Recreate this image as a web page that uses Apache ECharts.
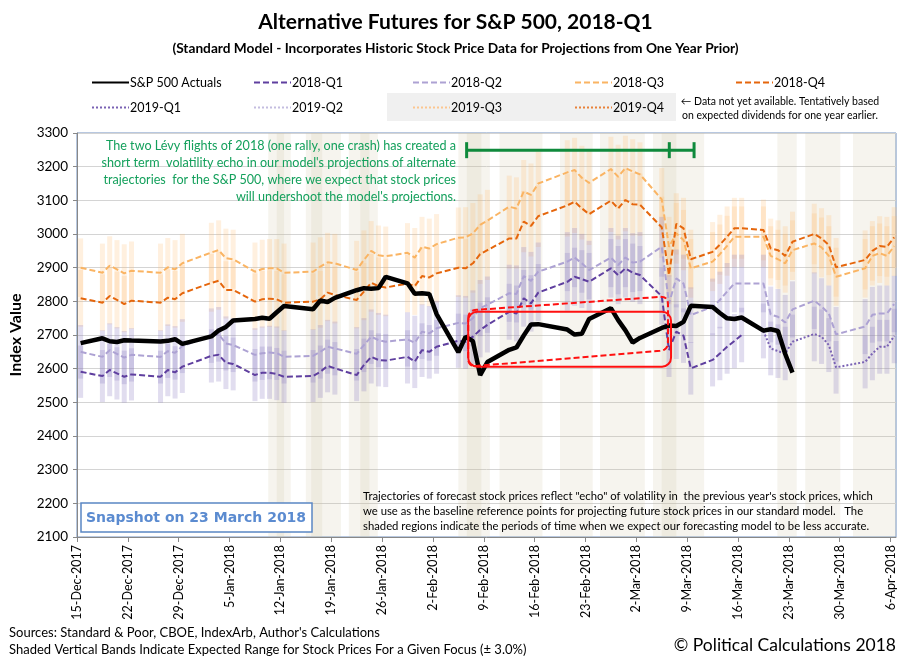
<!DOCTYPE html>
<html><head><meta charset="utf-8">
<script src="https://cdn.jsdelivr.net/npm/echarts@6/dist/echarts.min.js"></script>
<style>html,body{margin:0;padding:0;background:#fff}#c{width:911px;height:662px}</style>
</head><body><div id="c"></div>
<script>
const FONT = "Lato,'Noto Sans',sans-serif";
const dates = ['2017-12-15','2017-12-18','2017-12-19','2017-12-20','2017-12-21','2017-12-22','2017-12-26','2017-12-27','2017-12-28','2017-12-29',
'2018-01-02','2018-01-03','2018-01-04','2018-01-05','2018-01-08','2018-01-09','2018-01-10','2018-01-11','2018-01-12','2018-01-16','2018-01-17','2018-01-18','2018-01-19','2018-01-22','2018-01-23','2018-01-24','2018-01-25','2018-01-26','2018-01-29','2018-01-30','2018-01-31',
'2018-02-01','2018-02-02','2018-02-05','2018-02-06','2018-02-07','2018-02-08','2018-02-09','2018-02-12','2018-02-13','2018-02-14','2018-02-15','2018-02-16','2018-02-20','2018-02-21','2018-02-22','2018-02-23','2018-02-26','2018-02-27','2018-02-28',
'2018-03-01','2018-03-02','2018-03-05','2018-03-06','2018-03-07','2018-03-08','2018-03-09','2018-03-12','2018-03-13','2018-03-14','2018-03-15','2018-03-16','2018-03-19','2018-03-20','2018-03-21','2018-03-22','2018-03-23','2018-03-26','2018-03-27','2018-03-28','2018-03-29',
'2018-04-02','2018-04-03','2018-04-04','2018-04-05','2018-04-06'];

const actual = [2675.81,2690.16,2681.47,2679.25,2684.57,2683.34,2680.50,2682.62,2687.54,2673.61,
2695.81,2713.06,2723.99,2743.15,2747.71,2751.29,2748.23,2767.56,2786.24,2776.42,2802.56,2798.03,2810.30,2832.97,2839.13,2837.54,2839.25,2872.87,2853.53,2822.43,2823.81,
2821.98,2762.13,2648.94,2695.14,2681.66,2581.00,2619.55,2656.00,2662.94,2698.63,2731.20,2732.22,2716.26,2701.33,2703.96,2747.30,2779.60,2744.28,2713.83,
2677.67,2691.25,2720.94,2728.12,2726.80,2738.97,2786.57,2783.02,2765.31,2749.48,2747.33,2752.01,2712.92,2716.94,2711.93,2643.69,2588.26];

const q1_2018 = [2591,2578,2596,2586,2576,2583,2576,2596,2589,2606,
2638,2641,2618,2614,2581,2588,2588,2584,2576,2578,2591,2608,2601,2581,2611,2635,2626,2624,2635,2621,2655,
2650,2665,2683,2680,2695,2715,2730,2769,2764,2809,2794,2826,2858,2873,2866,2858,2898,2878,2898,
2885,2878,2815,2655,2710,2698,2601,2626,2645,2665,2682,2700];

const q2_2018 = [2650,2635,2655,2644,2633,2641,2635,2652,2647,2667,
2698,2702,2675,2670,2641,2646,2648,2646,2635,2638,2650,2665,2660,2644,2670,2695,2685,2680,2687,2677,2710,
2705,2720,2736,2734,2750,2780,2790,2824,2822,2875,2861,2888,2918,2930,2913,2893,2930,2908,2930,
2915,2918,2962,2794,2868,2853,2759,2784,2804,2829,2853,2853,2853,2761,2754,2737,2776,2802,2785,2764,2702,
2725,2760,2764,2764,2792];

const q3_2018 = [2900,2885,2906,2895,2883,2891,2885,2901,2895,2913,
2945,2952,2928,2925,2888,2896,2898,2898,2885,2888,2903,2916,2913,2893,2923,2950,2937,2934,2944,2930,2962,
2957,2970,2989,2990,3002,3027,3040,3081,3076,3126,3116,3150,3183,3190,3167,3152,3193,3170,3196,
3186,3177,3103,2962,3002,2982,2898,2918,2940,2965,2992,2992,2992,2935,2925,2913,2952,2972,2960,2935,2873,
2898,2935,2943,2935,2964];

const q4_2018 = [2809,2796,2816,2804,2792,2802,2796,2811,2806,2824,
2855,2861,2834,2834,2799,2806,2808,2806,2796,2799,2806,2826,2819,2804,2829,2855,2845,2841,2853,2845,2875,
2871,2883,2900,2898,2913,2940,2952,2987,2987,3037,3024,3053,3085,3096,3076,3059,3099,3076,3101,
3088,3087,3020,2878,3030,3017,2925,2947,2968,2992,3017,3017,3012,2957,2952,2935,2977,3000,2987,2967,2901,
2923,2950,2964,2962,2990];

// 2019-Q1 starts at 19-Mar-2018 (index 62)
const q1_2019_start = 62;
const q1_2019 = [2712,2660,2652,2645,2680,2703,2695,2670,2604,2620,2645,2665,2665,2697];
const q2_2019 = [], q3_2019 = [], q4_2019 = [];

const rangePct = 0.03; // stated expected range (+/- 3.0%)

// shaded "less accurate" periods [start, end] (dates)
const shadeBands = [
 ['2018-01-10T08:00','2018-01-13T10:00'],['2018-01-11T12:00','2018-01-12T12:00'],
 ['2018-01-15T12:00','2018-01-20T08:00'],['2018-01-16T06:00','2018-01-17T18:00'],
 ['2018-01-21T10:00','2018-01-25T10:00'],['2018-01-23T00:00','2018-01-24T06:00'],
 ['2018-02-05T12:00','2018-02-09T20:00'],['2018-02-06T16:00','2018-02-08T16:00'],
 ['2018-02-11T04:00','2018-02-17T02:00'],
 ['2018-02-19T12:00','2018-02-24T00:00'],
 ['2018-02-25T00:00','2018-03-03T04:00'],
 ['2018-03-04T07:00','2018-03-11T08:00'],['2018-03-05T12:00','2018-03-07T12:00'],
 ['2018-03-21T10:00','2018-03-24T02:00'],
 ['2018-03-25T06:00','2018-03-30T02:00'],
 ['2018-03-31T20:00','2018-04-07T18:00']
];

const yMin = 2100, yMax = 3300, yStep = 100;
const xMaxDays = 112.75;

const base = Date.UTC(2017,11,15);
function dayNum(s){
  const p = s.split(/[-T:]/).map(Number);
  return (Date.UTC(p[0],p[1]-1,p[2],p[3]||0,p[4]||0) - base)/86400000;
}
const MON = ['Jan','Feb','Mar','Apr','May','Jun','Jul','Aug','Sep','Oct','Nov','Dec'];
function fmtDay(v){
  const d = new Date(base + v*86400000);
  return d.getUTCDate()+'-'+MON[d.getUTCMonth()]+'-'+d.getUTCFullYear();
}
const xs = dates.map(d => dayNum(d) + 0.5);

function pairs(vals, start){ start = start||0; return vals.map((v,i)=> v==null?null:[xs[start+i], v]).filter(Boolean); }
function ranges(vals, start){ start = start||0; return vals.map((v,i)=>[xs[start+i], v*(1-rangePct), v*(1+rangePct)]); }

const C = {q1:'#5f3f9f', q2:'#ada2d3', q3:'#fab463', q4:'#e5660c',
  q1b:'#7a62b4', q2b:'#c4bde0', q3b:'#fbc690', q4b:'#e8823a'};
const purpleBar = 'rgba(140,125,195,0.26)';
const orangeBar = 'rgba(253,185,110,0.22)';

function barSeries(vals, color, start){
  return {type:'custom', silent:true, z:2, data: ranges(vals,start), encode:{x:0,y:[1,2]},
    renderItem:function(params, api){
      const x = api.value(0);
      const a = api.coord([x, api.value(2)]), b = api.coord([x, api.value(1)]);
      return {type:'rect', shape:{x:a[0]-2.5, y:a[1], width:5, height:b[1]-a[1]}, style:{fill:color}};
    }};
}

const chart = echarts.init(document.getElementById('c'), null, {renderer:'canvas'});

function lineS(name, data, color, width, dash, z){
  return {name, type:'line', data, symbol:'none', z:z||5, lineStyle:{color, width, type:dash}, itemStyle:{color}, emphasis:{disabled:true}};
}

const legendItems = [
  ['S&P 500 Actuals', 86, 71],
  ['2018-Q1', 248, 71],['2018-Q2', 407, 71],['2018-Q3', 569, 71],['2018-Q4', 730, 71],
  ['2019-Q1', 86, 96],['2019-Q2', 248, 96],['2019-Q3', 407, 96],['2019-Q4', 569, 96]
];

const option = {
  animation:false,
  backgroundColor:'#fff',
  textStyle:{fontFamily:FONT},
  title:{text:'Alternative Futures for S&P 500, 2018-Q1',
    subtext:'(Standard Model - Incorporates Historic Stock Price Data for Projections from One Year Prior)',
    left:'center', top:7, itemGap:9,
    textStyle:{fontFamily:FONT, fontSize:21, fontWeight:'bold', color:'#000'},
    subtextStyle:{fontFamily:FONT, fontSize:13.7, fontWeight:'bold', color:'#000'}},
  legend: legendItems.map(l=>({data:[l[0]], left:l[1], top:l[2], itemWidth:37, itemHeight:14, itemGap:0,
     itemStyle:{opacity:0},
     textStyle:{fontFamily:FONT, fontSize:12.5, color:'#000', padding:[0,0,0,-4]}, selectedMode:false})),
  grid:{left:77, right:15, top:133, bottom:125, show:true, borderColor:'#7090c0', borderWidth:1, backgroundColor:'transparent'},
  xAxis:{type:'value', min:0, max:xMaxDays, interval:7,
    axisLine:{show:true, lineStyle:{color:'#888', width:1}},
    axisTick:{show:true, length:5, lineStyle:{color:'#888'}},
    splitLine:{show:false},
    axisLabel:{rotate:90, fontFamily:FONT, fontSize:12.5, color:'#000', margin:8, showMaxLabel:false,
      formatter:v => (Math.abs(v/7 - Math.round(v/7))<1e-6) ? fmtDay(v) : ''}},
  yAxis:{type:'value', min:yMin, max:yMax, interval:yStep,
    name:'Index Value', nameLocation:'middle', nameGap:53,
    nameTextStyle:{fontFamily:FONT, fontSize:16, fontWeight:'bold', color:'#000'},
    axisLine:{show:true, lineStyle:{color:'#888'}},
    axisTick:{show:true, length:4, lineStyle:{color:'#888'}},
    splitLine:{lineStyle:{color:'#d4d4d4', width:1}},
    axisLabel:{fontFamily:FONT, fontSize:13.5, color:'#000', margin:9, formatter:v=>String(v)}},
  series:[
    {type:'custom', silent:true, z:1, data: shadeBands.map(b=>[dayNum(b[0]), Math.min(dayNum(b[1]), xMaxDays)]), encode:{x:[0,1]},
      renderItem:function(params, api){
        const a = api.coord([api.value(0), yMax]), b = api.coord([api.value(1), yMin]);
        return {type:'rect', shape:{x:a[0], y:a[1], width:b[0]-a[0], height:b[1]-a[1]}, style:{fill:'rgba(205,192,160,0.18)'}};
      }},
    barSeries(q3_2018, orangeBar),
    barSeries(q4_2018, orangeBar),
    barSeries(q1_2018, purpleBar),
    barSeries(q2_2018, purpleBar),
    barSeries(q1_2019, purpleBar, q1_2019_start),
    lineS('2018-Q3', pairs(q3_2018), C.q3, 2, [6,3]),
    lineS('2018-Q4', pairs(q4_2018), C.q4, 2, [6,3]),
    lineS('2018-Q2', pairs(q2_2018), C.q2, 2, [6,3]),
    lineS('2018-Q1', pairs(q1_2018), C.q1, 2, [6,3]),
    lineS('2019-Q1', pairs(q1_2019, q1_2019_start), C.q1b, 2, [2,2]),
    lineS('2019-Q2', pairs(q2_2019), C.q2b, 2, [2,2]),
    lineS('2019-Q3', pairs(q3_2019), C.q3b, 2, [2,2]),
    lineS('2019-Q4', pairs(q4_2019), C.q4b, 2, [2,2]),
    lineS('S&P 500 Actuals', pairs(actual), '#000', 4.5, 'solid', 10)
  ]
};
chart.setOption(option);

// ---- annotations anchored to data coordinates ----
const P = (d, v) => chart.convertToPixel({gridIndex:0}, [d, v]);
const redBox = {x0:53.86, x1:81.78, lo:2606, hi:2769};
const redPara = [[53.86, 2773],[81.36, 2815],[81.36, 2655],[53.86, 2606]];
const greenSpan = {y:3249, x0:53.64, xm:81.54, x1:84.95};

function roundedPoly(pts, r){
  const n = pts.length; const out = [];
  for (let i=0;i<n;i++){
    const p = pts[i], prev = pts[(i+n-1)%n], next = pts[(i+1)%n];
    const v1 = [prev[0]-p[0], prev[1]-p[1]], v2 = [next[0]-p[0], next[1]-p[1]];
    const l1 = Math.hypot(v1[0],v1[1]), l2 = Math.hypot(v2[0],v2[1]);
    const a = [p[0]+v1[0]/l1*r, p[1]+v1[1]/l1*r], b = [p[0]+v2[0]/l2*r, p[1]+v2[1]/l2*r];
    for (let k=0;k<=6;k++){
      const t = k/6;
      out.push([(1-t)*(1-t)*a[0]+2*(1-t)*t*p[0]+t*t*b[0], (1-t)*(1-t)*a[1]+2*(1-t)*t*p[1]+t*t*b[1]]);
    }
  }
  return out;
}

const bTL = P(redBox.x0, redBox.hi), bBR = P(redBox.x1, redBox.lo);
const paraPx = redPara.map(p=>P(p[0],p[1]));
const gL = P(greenSpan.x0, greenSpan.y), gM = P(greenSpan.xm, greenSpan.y), gR = P(greenSpan.x1, greenSpan.y);
const green = '#0f8a3c';
const noteGreen = '#14a05c';

const gfx = [
  {type:'rect', z:50, shape:{x:bTL[0], y:bTL[1], width:bBR[0]-bTL[0], height:bBR[1]-bTL[1], r:9}, style:{fill:null, stroke:'#ff1010', lineWidth:2}},
  {type:'polygon', z:50, shape:{points: roundedPoly(paraPx, 8)}, style:{fill:null, stroke:'#ff1010', lineWidth:2, lineDash:[6,3]}},
  {type:'line', z:50, shape:{x1:gL[0], y1:gL[1], x2:gR[0], y2:gR[1]}, style:{stroke:green, lineWidth:3}},
  {type:'line', z:50, shape:{x1:gL[0], y1:gL[1]-8, x2:gL[0], y2:gL[1]+8}, style:{stroke:green, lineWidth:3}},
  {type:'line', z:50, shape:{x1:gM[0], y1:gM[1]-8, x2:gM[0], y2:gM[1]+8}, style:{stroke:green, lineWidth:3}},
  {type:'line', z:50, shape:{x1:gR[0], y1:gR[1]-8, x2:gR[0], y2:gR[1]+8}, style:{stroke:green, lineWidth:3}},
  {type:'text', z:50, x:456, y:137, style:{text:"The two Lévy flights of 2018 (one rally, one crash) has created a\nshort term  volatility echo in our model's projections of alternate\ntrajectories  for the S&P 500, where we expect that stock prices\nwill undershoot the model's projections.",
     align:'right', verticalAlign:'top', fill:noteGreen, font:"12.6px "+FONT, lineHeight:17}},
  {type:'text', z:50, x:363, y:489, style:{text:"Trajectories of forecast stock prices reflect \"echo\" of volatility in  the previous year's stock prices, which\nwe use as the baseline reference points for projecting future stock prices in our standard model.   The\nshaded regions indicate the periods of time when we expect our forecasting model to be less accurate.",
     align:'left', verticalAlign:'top', fill:'#000', font:"11.3px "+FONT, lineHeight:15}},
  {type:'rect', z:50, shape:{x:81, y:503, width:231, height:29}, style:{fill:'#fff', stroke:'#5a86c4', lineWidth:1.5}},
  {type:'text', z:51, x:196, y:518, style:{text:'Snapshot on 23 March 2018', align:'center', verticalAlign:'middle', fill:'#5b8bd0', font:"bold 14px 'DejaVu Sans',Verdana,sans-serif"}},
  {type:'rect', z:-1, shape:{x:387, y:93, width:289, height:28}, style:{fill:'#f0f0f0'}},
  {type:'text', z:50, x:780, y:95, style:{text:'\u2190 Data not yet available. Tentatively based\non expected dividends for one year earlier.', align:'center', verticalAlign:'top', fill:'#000', font:"10.5px "+FONT, lineHeight:14}},
  {type:'text', z:50, x:9, y:624, style:{text:"Sources: Standard & Poor, CBOE, IndexArb, Author's Calculations\nShaded Vertical Bands Indicate Expected Range for Stock Prices For a Given Focus (\u00b1 3.0%)", align:'left', verticalAlign:'top', fill:'#000', font:"13px "+FONT, lineHeight:17}},
  {type:'text', z:50, x:896, y:645, style:{text:'\u00a9 Political Calculations 2018', align:'right', verticalAlign:'middle', fill:'#000', font:"17.5px "+FONT}}
];
chart.setOption({graphic:{elements:gfx}});
</script></body></html>
